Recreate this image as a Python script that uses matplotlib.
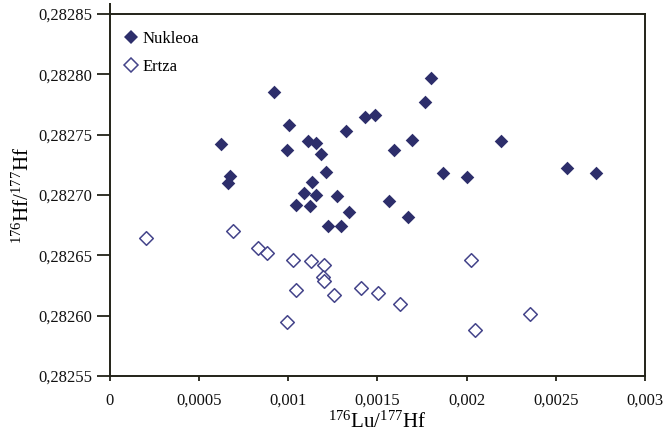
import matplotlib
matplotlib.use("Agg")
import matplotlib.pyplot as plt
from matplotlib.lines import Line2D

# Nukleoa (filled)
nuk_x = [0.001798, 0.000919, 0.001766, 0.001428, 0.001485, 0.001006, 0.001321,
         0.000622, 0.000990, 0.001109, 0.001154, 0.001182, 0.001592, 0.001695,
         0.002192, 0.000673, 0.000659, 0.001214, 0.001865, 0.002000, 0.002560,
         0.002727, 0.001131, 0.001089, 0.001158, 0.001275, 0.001566, 0.001042,
         0.001123, 0.001339, 0.001673, 0.001224, 0.001293]
nuk_y = [0.282797, 0.282785, 0.282777, 0.282765, 0.282766, 0.282758, 0.282753,
         0.282742, 0.282737, 0.282745, 0.282743, 0.282734, 0.282737, 0.282746,
         0.282745, 0.282716, 0.282710, 0.282719, 0.282718, 0.282715, 0.282722,
         0.282718, 0.282711, 0.282702, 0.282700, 0.282699, 0.282695, 0.282692,
         0.282691, 0.282686, 0.282682, 0.282674, 0.282674]

# Ertza (open)
ert_x = [0.000204, 0.000689, 0.000830, 0.000881, 0.001028, 0.001129, 0.001202,
         0.001194, 0.001198, 0.002022, 0.001042, 0.001410, 0.001505, 0.001257,
         0.001626, 0.000990, 0.002046, 0.002358]
ert_y = [0.282664, 0.282670, 0.282656, 0.282652, 0.282646, 0.282645, 0.282642,
         0.282632, 0.282629, 0.282646, 0.282621, 0.282623, 0.282619, 0.282617,
         0.282610, 0.282595, 0.282588, 0.282601]

x_ticks = [0, 0.0005, 0.001, 0.0015, 0.002, 0.0025, 0.003]
x_labels = ["0", "0,0005", "0,001", "0,0015", "0,002", "0,0025", "0,003"]
y_ticks = [0.28255, 0.28260, 0.28265, 0.28270, 0.28275, 0.28280, 0.28285]
y_labels = ["0,28255", "0,28260", "0,28265", "0,28270", "0,28275", "0,28280", "0,28285"]

plt.rcParams['font.family'] = ['Liberation Serif', 'DejaVu Serif']
plt.rcParams['mathtext.fontset'] = 'custom'
plt.rcParams['mathtext.rm'] = 'Liberation Serif'
plt.rcParams['mathtext.it'] = 'Liberation Serif:italic'
plt.rcParams['mathtext.bf'] = 'Liberation Serif:bold'

fill_c = '#2d2e6b'
edge_c = '#44448a'
spine_c = '#222218'

fig = plt.figure(figsize=(6.65, 4.33), dpi=100)
ax = fig.add_axes([0.1654, 0.1316, 0.8045, 0.8360])

ax.scatter(nuk_x, nuk_y, marker='D', s=48, color=fill_c, linewidths=0, zorder=3)
ax.scatter(ert_x, ert_y, marker='D', s=48, facecolors='white', edgecolors=edge_c,
           linewidths=1.1, zorder=3)

ax.set_xlim(0, 0.003)
ax.set_ylim(0.28255, 0.28285)
ax.set_xticks(x_ticks)
ax.set_xticklabels(x_labels)
ax.set_yticks(y_ticks)
ax.set_yticklabels(y_labels)
ax.tick_params(direction='out', width=1.3, color=spine_c,
               labelsize=12, labelcolor='#111111')
ax.tick_params(axis='x', length=3.6, pad=8.3)
ax.tick_params(axis='y', length=9.4, pad=3.6)
for s in ax.spines.values():
    s.set_color(spine_c)
    s.set_linewidth(1.4)

# left spine extends a little above the frame, as in the original
ax.plot([0, 0], [1, 1.03], transform=ax.transAxes, color=spine_c,
        linewidth=1.4, clip_on=False, solid_capstyle='butt')

ax.set_xlabel(r'$^{176}$Lu/$^{177}$Hf', fontsize=15, labelpad=2)
ax.set_ylabel(r'$^{176}$Hf/$^{177}$Hf', fontsize=15, labelpad=3)

handles = [
    Line2D([], [], marker='D', linestyle='none', markersize=7,
           markerfacecolor=fill_c, markeredgewidth=0, label='Nukleoa'),
    Line2D([], [], marker='D', linestyle='none', markersize=7,
           markerfacecolor='white', markeredgecolor=edge_c, markeredgewidth=1.1,
           label='Ertza'),
]
ax.legend(handles=handles, loc='upper left', frameon=False, fontsize=12,
          handletextpad=0.1, handlelength=1.2, labelspacing=0.7,
          borderaxespad=0.4, bbox_to_anchor=(-0.005, 0.99))

fig.savefig('out.png', dpi=100)
